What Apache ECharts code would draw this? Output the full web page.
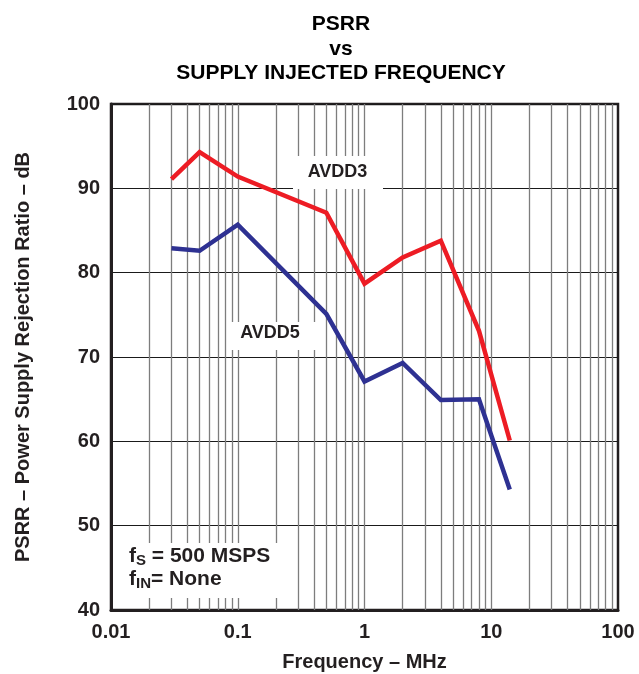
<!DOCTYPE html>
<html>
<head>
<meta charset="utf-8">
<title>PSRR vs Supply Injected Frequency</title>
<script src="https://cdn.jsdelivr.net/npm/echarts@6/dist/echarts.min.js"></script>
<style>
  html, body { margin: 0; padding: 0; background: #ffffff; }
  #chart { width: 639px; height: 674px; }
</style>
</head>
<body>
<div id="chart"></div>
<script>
// Injected supply-noise frequency, MHz
const freqMHz = [0.03, 0.05, 0.1, 0.5, 1, 2, 4, 8, 14];
// PSRR, dB
const avdd3 = [91.1, 94.3, 91.4, 87.1, 78.7, 81.8, 83.8, 73.1, 60.1];
const avdd5 = [82.9, 82.6, 85.7, 75.1, 67.1, 69.3, 64.9, 65.0, 54.3];

const xTickLabels = ['0.01', '0.1', '1', '10', '100'];
const yTickLabels = ['40', '50', '60', '70', '80', '90', '100'];

// Log-decade grid lines (1..9 within each decade)
const decades = [0.01, 0.1, 1, 10];
const gridFreqs = [];
decades.forEach(d => { for (let k = 1; k <= 9; k++) { const v = +(d * k).toPrecision(3); if (v > 0.01 && v < 100) gridFreqs.push(v); } });

const FONT = '"Liberation Sans", Arial, Helvetica, sans-serif';
const INK = '#231f20';

const chart = echarts.init(document.getElementById('chart'), null, { renderer: 'canvas' });

const toPairs = ys => freqMHz.map((f, i) => [f, ys[i]]);

chart.setOption({
  animation: false,
  backgroundColor: '#ffffff',
  title: {
    text: 'PSRR\nvs\nSUPPLY INJECTED FREQUENCY',
    left: 336,
    top: 7,
    textAlign: 'center',
    textStyle: { fontFamily: FONT, fontWeight: 'bold', fontSize: 21, lineHeight: 24.5, color: '#000' }
  },
  grid: {
    left: 111, top: 104, right: 21, bottom: 64,
    containLabel: false, outerBoundsMode: 'none',
    show: true, borderColor: INK, borderWidth: 2.5, backgroundColor: 'transparent'
  },
  xAxis: {
    type: 'log', logBase: 10, min: 0.01, max: 100,
    name: 'Frequency – MHz', nameLocation: 'middle', nameGap: 42,
    nameTextStyle: { fontFamily: FONT, fontWeight: 'bold', fontSize: 20, color: INK },
    axisLine: { show: true, lineStyle: { color: INK, width: 3 } },
    axisTick: { show: false },
    splitLine: { show: false },
    axisLabel: {
      margin: 12, fontFamily: FONT, fontWeight: 'bold', fontSize: 20, color: INK,
      formatter: v => { const i = Math.round(Math.log10(v) + 2); return xTickLabels[i] !== undefined ? xTickLabels[i] : ''; }
    }
  },
  yAxis: {
    type: 'value', min: 40, max: 100, interval: 10,
    name: 'PSRR – Power Supply Rejection Ratio – dB', nameLocation: 'middle', nameGap: 78,
    nameTextStyle: { fontFamily: FONT, fontWeight: 'bold', fontSize: 20, color: INK },
    axisLine: { show: true, lineStyle: { color: INK, width: 3 } },
    axisTick: { show: false },
    splitLine: { show: true, lineStyle: { color: '#1a1a1a', width: 1.2 } },
    axisLabel: {
      margin: 11, fontFamily: FONT, fontWeight: 'bold', fontSize: 20, color: INK,
      formatter: v => { const i = Math.round((v - 40) / 10); return yTickLabels[i] !== undefined ? yTickLabels[i] : ''; }
    }
  },
  series: [
    {
      name: 'grid',
      type: 'line',
      data: [],
      silent: true,
      z: 1,
      markLine: {
        silent: true,
        symbol: 'none',
        label: { show: false },
        lineStyle: { type: 'solid', color: '#7d7d7d', width: 1.3 },
        data: gridFreqs.map(v => ({ xAxis: v }))
      }
    },
    {
      name: 'AVDD3',
      type: 'line',
      data: toPairs(avdd3),
      showSymbol: false,
      z: 5,
      lineStyle: { color: '#ed1c24', width: 4.5, join: 'miter' },
      itemStyle: { color: '#ed1c24' }
    },
    {
      name: 'AVDD5',
      type: 'line',
      data: toPairs(avdd5),
      showSymbol: false,
      z: 5,
      lineStyle: { color: '#2e3192', width: 4.5, join: 'miter' },
      itemStyle: { color: '#2e3192' }
    }
  ],
  graphic: [
    { type: 'rect', z: 10, shape: { x: 293, y: 156, width: 90, height: 33 }, style: { fill: '#ffffff' } },
    { type: 'text', z: 11, x: 337.5, y: 172.5,
      style: { text: 'AVDD3', fill: INK, font: 'bold 18px ' + FONT, align: 'center', verticalAlign: 'middle' } },
    { type: 'rect', z: 10, shape: { x: 227, y: 322, width: 92, height: 28 }, style: { fill: '#ffffff' } },
    { type: 'text', z: 11, x: 270, y: 333,
      style: { text: 'AVDD5', fill: INK, font: 'bold 18px ' + FONT, align: 'center', verticalAlign: 'middle' } },
    { type: 'rect', z: 10, shape: { x: 113, y: 543, width: 177, height: 55 }, style: { fill: '#ffffff' } },
    { type: 'text', z: 11, x: 129, y: 545,
      style: {
        text: '{m|f}{s|S}{m| = 500 MSPS}\n{m|f}{s|IN}{m|= None}',
        fill: INK, align: 'left', verticalAlign: 'top',
        rich: {
          m: { fontFamily: FONT, fontWeight: 'bold', fontSize: 21, fill: INK, lineHeight: 23, verticalAlign: 'middle' },
          s: { fontFamily: FONT, fontWeight: 'bold', fontSize: 15, fill: INK, lineHeight: 12, verticalAlign: 'bottom' }
        }
      } }
  ]
});
</script>
</body>
</html>
